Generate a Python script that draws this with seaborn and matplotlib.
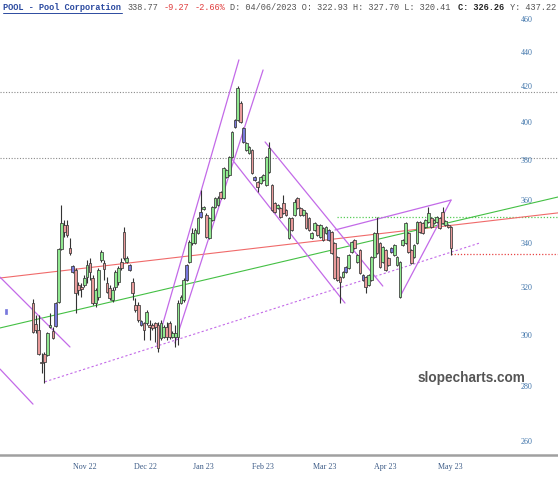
import numpy as np
import matplotlib
matplotlib.use("Agg")
import matplotlib.pyplot as plt
import seaborn as sns

# ---------------- data ----------------
opens = [313.7, 304.9, 302.5, 289.7, 292.8, 292.4, 303.7, 302.1, 304.1, 314.2,
         337.5, 348.7, 348.7, 338.0, 329.9, 328.1, 321.5, 320.6, 321.5, 324.9,
         331.2, 324.5, 313.7, 316.3, 332.5, 331.2, 322.4, 320.2, 315.0, 320.6,
         322.8, 331.6, 345.4, 331.6, 330.3, 322.8, 312.9, 312.9, 306.2, 305.3,
         305.3, 304.5, 304.5, 305.3, 304.5, 299.2, 299.6, 303.7, 305.3, 299.6,
         299.6, 299.6, 313.7, 315.0, 323.7, 331.6, 340.3, 340.3, 344.9, 352.4,
         356.3, 353.4, 342.6, 351.0, 357.2, 358.2, 364.6, 361.6, 372.0, 373.0,
         382.3, 398.1, 401.9, 411.2, 397.6, 385.9, 384.3, 385.9, 372.0, 369.5,
         369.0, 370.5, 368.0, 374.6, 368.0, 359.2, 356.7, 356.7, 359.2, 355.8,
         342.6, 351.9, 353.4, 361.6, 356.7, 353.4, 354.4, 351.9, 342.6, 346.3,
         348.7, 343.0, 347.2, 344.9, 346.3, 345.4, 340.3, 333.9, 324.9, 324.9,
         327.2, 329.0, 336.1, 341.7, 331.6, 337.0, 325.8, 324.9, 321.5, 323.7,
         333.9, 344.9, 340.3, 331.6, 337.0, 333.4, 336.1, 334.8, 330.3, 316.3,
         339.3, 340.3, 344.9, 337.0, 333.9, 340.3, 350.0, 349.6, 347.7, 350.0,
         351.9, 349.6, 350.0, 351.9, 354.8, 348.7, 348.7, 347.7]
highs = [315.4, 308.7, 308.7, 293.2, 293.6, 301.7, 309.5, 303.7, 314.2, 338.0,
         358.2, 351.0, 351.0, 342.6, 330.3, 329.0, 322.8, 322.4, 325.8, 332.5,
         333.4, 325.8, 320.2, 329.0, 337.0, 332.5, 324.9, 321.5, 320.6, 328.1,
         329.9, 333.4, 347.7, 334.3, 330.8, 324.5, 315.9, 314.2, 306.6, 305.8,
         310.8, 306.6, 305.3, 305.8, 305.8, 306.6, 304.5, 305.8, 306.2, 302.1,
         304.5, 315.0, 317.2, 324.5, 330.8, 341.7, 347.2, 347.2, 352.4, 365.6,
         357.7, 354.4, 352.4, 357.7, 362.1, 362.6, 365.1, 377.1, 376.1, 382.8,
         395.9, 402.5, 420.7, 412.4, 398.1, 390.1, 388.0, 386.4, 372.5, 370.0,
         372.5, 373.5, 382.8, 390.1, 368.5, 359.6, 358.7, 357.2, 363.1, 356.3,
         352.4, 352.4, 361.0, 362.1, 357.2, 356.3, 354.8, 352.4, 345.4, 350.0,
         349.1, 349.1, 347.7, 348.2, 346.8, 345.8, 340.7, 334.3, 325.3, 327.6,
         329.9, 335.2, 341.2, 342.2, 335.2, 337.5, 326.3, 325.3, 326.3, 334.3,
         345.4, 352.4, 340.7, 338.8, 337.5, 333.9, 338.4, 339.8, 334.3, 332.1,
         342.2, 350.0, 345.4, 337.5, 339.8, 350.5, 350.5, 350.0, 351.4, 357.2,
         352.4, 351.4, 352.9, 352.4, 357.2, 351.0, 349.1, 348.2]
lows = [301.2, 301.2, 292.4, 285.4, 281.6, 292.0, 303.3, 298.8, 303.7, 313.7,
        337.0, 343.0, 343.0, 334.8, 326.7, 309.5, 317.2, 316.3, 320.6, 322.4,
        323.7, 312.9, 312.0, 315.0, 331.6, 323.7, 318.0, 315.0, 314.2, 319.3,
        321.5, 328.1, 332.5, 331.2, 327.6, 315.0, 309.9, 305.8, 304.1, 298.4,
        304.5, 298.4, 302.5, 297.6, 293.6, 298.4, 299.2, 298.4, 298.8, 299.2,
        295.6, 296.4, 313.3, 314.2, 323.2, 331.2, 339.3, 339.8, 344.4, 351.9,
        355.8, 342.6, 342.2, 350.5, 356.7, 357.7, 361.1, 361.1, 371.5, 372.5,
        381.7, 397.6, 401.3, 400.2, 389.6, 385.4, 383.8, 373.5, 370.0, 364.6,
        368.5, 370.0, 367.5, 374.0, 355.3, 354.3, 356.3, 351.9, 353.9, 352.9,
        342.2, 345.8, 352.9, 356.3, 352.9, 352.9, 346.8, 345.8, 342.2, 345.8,
        343.5, 342.6, 341.2, 344.4, 341.2, 335.2, 324.0, 323.2, 313.7, 324.5,
        326.7, 328.5, 335.7, 337.5, 331.2, 326.3, 323.2, 318.0, 321.0, 323.2,
        333.4, 335.2, 329.0, 331.2, 327.6, 329.9, 335.7, 334.3, 329.9, 315.9,
        338.8, 339.8, 335.7, 330.8, 333.4, 339.8, 344.9, 344.4, 347.2, 349.6,
        347.2, 349.1, 349.6, 346.8, 349.1, 348.2, 347.2, 334.8]
closes = [301.7, 302.5, 292.8, 289.3, 289.7, 301.2, 304.5, 299.2, 313.7, 337.5,
          349.6, 345.4, 344.0, 335.7, 327.2, 318.0, 319.3, 319.7, 324.5, 330.3,
          327.2, 313.7, 319.3, 328.1, 336.1, 328.5, 318.5, 315.9, 319.3, 327.2,
          329.0, 329.0, 333.4, 333.4, 328.1, 318.0, 310.8, 306.6, 304.5, 302.5,
          309.9, 303.7, 303.3, 303.7, 295.2, 305.3, 303.7, 299.6, 299.6, 301.2,
          301.2, 313.7, 316.3, 323.7, 330.3, 340.7, 344.9, 346.3, 351.9, 354.8,
          357.2, 343.0, 351.9, 357.2, 361.6, 361.6, 361.6, 376.6, 375.6, 382.3,
          395.4, 401.9, 419.6, 400.8, 390.1, 389.6, 387.5, 374.0, 370.5, 367.0,
          372.0, 373.0, 382.3, 387.0, 355.8, 354.8, 358.2, 352.4, 354.4, 353.4,
          351.9, 346.3, 359.6, 356.7, 353.4, 355.8, 347.2, 346.3, 344.9, 349.6,
          344.0, 348.7, 341.7, 347.7, 341.7, 335.7, 324.5, 323.7, 322.8, 327.2,
          329.4, 334.8, 340.7, 338.0, 334.8, 326.7, 323.7, 320.6, 325.8, 333.9,
          344.9, 335.7, 329.4, 338.4, 328.1, 330.3, 338.0, 339.3, 333.9, 331.6,
          341.7, 349.6, 336.1, 331.2, 339.3, 350.0, 345.4, 344.9, 351.0, 354.4,
          347.7, 351.0, 352.4, 347.2, 349.6, 350.5, 347.7, 338.0]
# bars drawn in blue on the reference
blue_bars = [8, 14, 34, 38, 54, 59, 71, 74, 78, 104, 110, 116, 126]
# isolated early bar (trading days before the first bar, open, close)
early_day, early_open, early_close = -9.5, 309.0, 311.2

month_labels = ["Nov 22", "Dec 22", "Jan 23", "Feb 23", "Mar 23", "Apr 23", "May 23"]
month_pos = [18.3, 39.7, 59.8, 80.9, 102.7, 123.8, 146.6]
price_ticks = [260, 280, 300, 320, 340, 360, 380, 400, 420, 440, 460]

# drawn lines: (x0, y0, x1, y1) in bar index / price
purple_lines = [(-11.6, 324.9, 13.0, 295.6), (-11.6, 286.9, 0.0, 273.6),
                (43.6, 296.8, 72.4, 435.9), (49.9, 297.2, 80.9, 430.0),
                (70.0, 381.0, 109.7, 313.7), (81.6, 390.1, 123.0, 321.0),
                (106.2, 346.3, 147.0, 360.6), (129.0, 316.3, 147.0, 360.6)]
purple_dotted = (4.2, 282.0, 157.2, 340.3)
red_trend = (-11.6, 324.5, 184.6, 354.4)
green_trend = (-11.6, 303.3, 184.6, 362.1)
gray_levels = [417.4, 381.7]
green_level = (106.9, 352.4)
red_level = (147.0, 335.2)

# ---------------- drawing ----------------
sns.set_theme(style="white")
plt.rcParams["font.family"] = ["DejaVu Sans"]

fig = plt.figure(figsize=(5.58, 4.80), dpi=100)
ax = fig.add_axes([0, 25 / 480, 1, 455 / 480])
ax.set_yscale("log")
XMIN, XMAX = -11.6, 184.6
ax.set_xlim(XMIN, XMAX)
ax.set_ylim(255.4, 472.7)

# horizontal levels
for lv in gray_levels:
    ax.axhline(lv, color="#8a8a8a", lw=0.8, ls=(0, (1, 1.5)), zorder=1)
ax.plot([green_level[0], XMAX], [green_level[1]] * 2, color="#55cc55", lw=0.9,
        ls=(0, (1, 1.5)), zorder=1)
ax.plot([red_level[0], XMAX], [red_level[1]] * 2, color="#e84444", lw=0.9,
        ls=(0, (1, 1.5)), zorder=1)

# trend lines
sns.lineplot(x=[red_trend[0], red_trend[2]], y=[red_trend[1], red_trend[3]],
             ax=ax, color="#f06a6a", lw=0.8, zorder=2)
sns.lineplot(x=[green_trend[0], green_trend[2]], y=[green_trend[1], green_trend[3]],
             ax=ax, color="#44c044", lw=0.8, zorder=2)
for (x0, y0, x1, y1) in purple_lines:
    sns.lineplot(x=[x0, x1], y=[y0, y1], ax=ax, color="#c36ae8", lw=0.9, zorder=2)
sns.lineplot(x=[purple_dotted[0], purple_dotted[2]],
             y=[purple_dotted[1], purple_dotted[3]], ax=ax, color="#c36ae8",
             lw=0.8, ls=(0, (2, 2)), zorder=2)

# candles
idx = np.arange(len(opens))
o = np.array(opens); h = np.array(highs); l = np.array(lows); c = np.array(closes)
face = np.where(c >= o, "#90e890", "#e89a9a").astype(object)
for b in blue_bars:
    face[b] = "#7878dc"
ax.vlines(idx, l, h, color="#333333", lw=0.8, zorder=3)
ax.bar(idx, np.maximum(np.abs(c - o), 0.5), bottom=np.minimum(o, c), width=0.95,
       color=list(face), edgecolor="#3a3a3a", linewidth=0.55, zorder=4)
ax.bar([early_day], [early_close - early_open], bottom=[early_open], width=0.95,
       color="#7878dc", edgecolor="#7878dc", linewidth=0.5, zorder=4)

# axes cosmetics
ax.set_yticks([]); ax.minorticks_off()
ax.yaxis.set_minor_locator(matplotlib.ticker.NullLocator())
for s in ["top", "left", "right"]:
    ax.spines[s].set_visible(False)
ax.spines["bottom"].set_color("#a0a0a0")
ax.spines["bottom"].set_linewidth(1.8)
ax.set_xticks(month_pos)
ax.set_xticklabels(month_labels, family="Liberation Serif", fontsize=5.8,
                   color="#3b5a86")
ax.tick_params(axis="x", length=0, pad=6)
ytr = ax.get_yaxis_transform()
for p in price_ticks:
    ax.text(0.944, p, str(p), transform=ytr, ha="center", va="center",
            family="Liberation Serif", fontsize=5.8, color="#3f74aa", zorder=6)

# watermark
ax.text(0.845, 0.17, "slopecharts.com", transform=ax.transAxes, ha="center",
        va="center", family="Liberation Sans", fontweight="bold", fontsize=9.8,
        color="#555555", zorder=6)

# header
cw = 5.17
def head(ch, s, color, bold=False):
    fig.text((3 + ch * cw) / 558, 1 - 8 / 480, s, ha="left", va="center",
             family="Liberation Mono", fontsize=6.2, color=color,
             fontweight="bold" if bold else "normal")
head(0, "POOL - Pool Corporation", "#2b4aa0", True)
fig.add_artist(matplotlib.lines.Line2D([3 / 558, (3 + 23 * cw) / 558],
                                       [1 - 13 / 480] * 2, color="#2b4aa0", lw=0.7))
head(24, "338.77", "#555555")
head(31, "-9.27", "#e03c3c")
head(37, "-2.66%", "#e03c3c")
head(44, "D: 04/06/2023 O: 322.93 H: 327.70 L: 320.41", "#555555")
head(88, "C: 326.26", "#222222", True)
head(98, "Y: 437.22", "#555555")

fig.savefig("out.png", dpi=100, facecolor="white")
